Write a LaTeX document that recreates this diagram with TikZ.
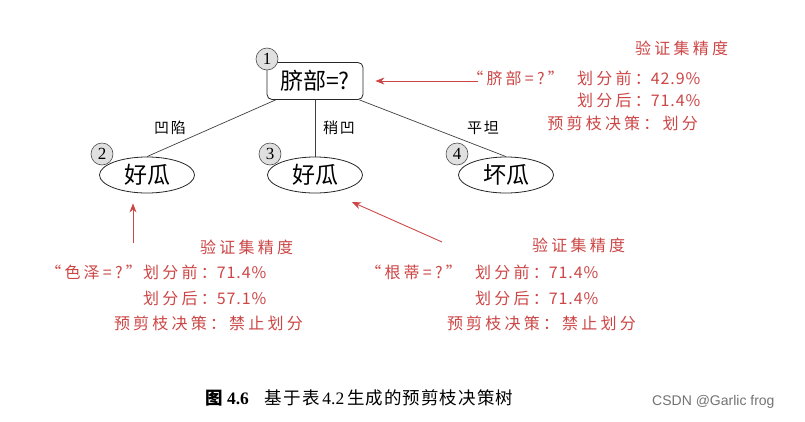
\documentclass[tikz,border=0pt]{standalone}
\usepackage{fontspec}
\setmainfont{Liberation Serif}
\newfontfamily\cjk{Noto Sans CJK SC}
\newfontfamily\cjkred[LetterSpace=20]{Noto Sans CJK SC}
\newfontfamily\cjkdig[LetterSpace=6]{Noto Sans CJK SC}
\newfontfamily\cjkcap[LetterSpace=6]{Noto Sans CJK SC}
\newfontfamily\cjklab[LetterSpace=12]{Noto Sans CJK SC}
\newfontfamily\wmfont{Liberation Sans}
\newcommand\rnum[1]{{\cjkdig #1}}
\usetikzlibrary{arrows.meta,calc,shapes.geometric}
\definecolor{redtxt}{RGB}{205,70,70}
\tikzset{
  treenode/.style={draw=black!85, line width=0.8pt, font=\cjk\fontsize{23}{23}\selectfont, inner sep=0pt},
  leafnode/.style={treenode, ellipse, minimum width=95pt, minimum height=36pt},
  rootnode/.style={treenode, rectangle, rounded corners=5pt, minimum width=96pt, minimum height=37pt},
  numcirc/.style={circle, draw=black!70, fill=black!12, line width=0.6pt, minimum size=22pt, inner sep=0pt, font=\fontsize{17}{17}\selectfont},
  edge/.style={draw=black!75, line width=0.7pt},
  elabel/.style={font=\cjklab\fontsize{15}{15}\selectfont, inner sep=0pt},
  redlabel/.style={font=\cjkred\fontsize{16}{16}\selectfont, text=redtxt, inner sep=0pt},
  redarrow/.style={draw=redtxt, line width=0.9pt, -{Stealth[length=9pt,width=7pt]}},
}
\begin{document}
\begin{tikzpicture}[x=1pt,y=-1pt]
\useasboundingbox[fill=white] (0,0) rectangle (805,421);
% tree nodes
\node[rootnode] (root) at (315,81) {脐部=?};
\node[leafnode] (l2) at (147,175) {好瓜};
\node[leafnode] (l3) at (315,175) {好瓜};
\node[leafnode] (l4) at (506,175) {坏瓜};
% edges
\draw[edge] ($(root.south west)+(9,0)$) -- (l2.north);
\draw[edge] (root.south) -- (l3.north);
\draw[edge] ($(root.south east)+(-4,0)$) -- (l4.north);
% numbered circles
\node[numcirc] (c1) at (267,59) {1};
\node[numcirc] (c2) at (102,154) {2};
\node[numcirc] (c3) at (270,154) {3};
\node[numcirc] (c4) at (457,154) {4};
% edge labels
\node[elabel] (e2) at (170,128) {凹陷};
\node[elabel] (e3) at (339,128) {稍凹};
\node[elabel] (e4) at (483,128) {平坦};
% red annotation 1
\coordinate (t1) at (478,81);
\draw[redarrow] (t1) -- ($(root.east)+(12,0)$);
\node[redlabel, anchor=west] (v1) at (635,48) {验证集精度};
\node[redlabel, anchor=east] (q1) at (564,78) {“脐部=?”};
\node[redlabel, anchor=west] (b1) at (577,78) {划分前：\rnum{42.9\%}};
\node[redlabel, anchor=west] (a1) at (577,100) {划分后：\rnum{71.4\%}};
\node[redlabel, anchor=east] (d1) at (698,123) {预剪枝决策：划分};
% red annotation 2
\coordinate (t2) at (133,243);
\draw[redarrow] (t2) -- ($(l2.south)+(-14,10)$);
\node[redlabel, anchor=west] (v2) at (200,247) {验证集精度};
\node[redlabel, anchor=east] (q2) at (142,272) {“色泽=?”};
\node[redlabel, anchor=west] (b2) at (143,272) {划分前：\rnum{71.4\%}};
\node[redlabel, anchor=west] (a2) at (143,298) {划分后：\rnum{57.1\%}};
\node[redlabel, anchor=east] (d2) at (303,323) {预剪枝决策：禁止划分};
% red annotation 3
\coordinate (t3) at (442,242);
\draw[redarrow] (t3) -- ($(l3.center)+(37,27)$);
\node[redlabel, anchor=west] (v3) at (532,245) {验证集精度};
\node[redlabel, anchor=east] (q3) at (462,272) {“根蒂=?”};
\node[redlabel, anchor=west] (b3) at (475,272) {划分前：\rnum{71.4\%}};
\node[redlabel, anchor=west] (a3) at (475,298) {划分后：\rnum{71.4\%}};
\node[redlabel, anchor=east] (d3) at (636,323) {预剪枝决策：禁止划分};
% caption
\node[anchor=west, inner sep=0pt, font=\fontsize{17.5}{17.5}\selectfont] (cap) at (205,398) {{\cjk\bfseries 图} \textbf{4.6}\hspace{16pt}{\cjkcap 基于表}\,4.2\,{\cjkcap 生成的预剪枝决策树}};
\node[anchor=west, inner sep=0pt, text=black!55, font=\wmfont\fontsize{14}{14}\selectfont] (wm) at (652,402) {CSDN @Garlic frog};
\end{tikzpicture}
\end{document}
